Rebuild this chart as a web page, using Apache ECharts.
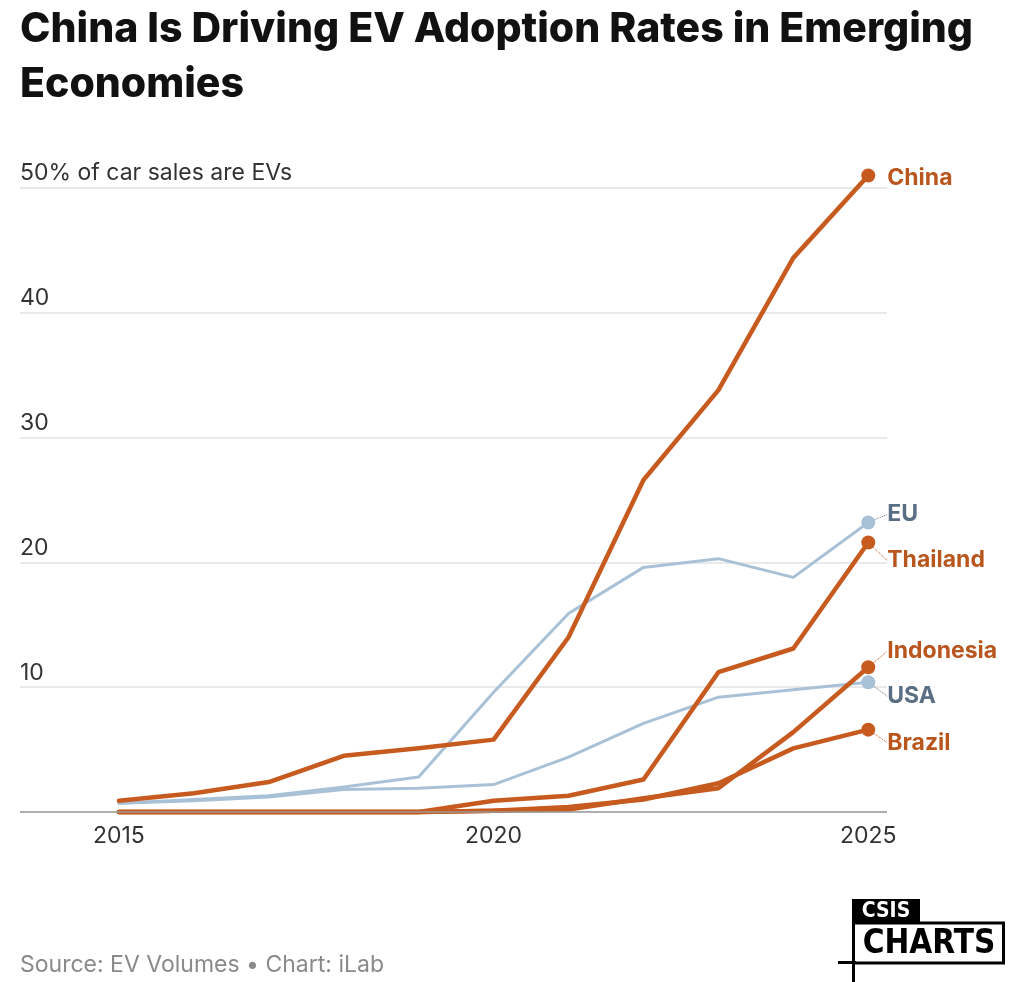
<!DOCTYPE html>
<html lang="en" style="height: 100%">

<head>
    <meta charset="utf-8">
</head>

<body style="height: 100%; margin: 0; background: #fff">
    <div id="container" style="height: 100%"></div>

    <script type="text/javascript" src="https://cdn.jsdelivr.net/npm/echarts@6/dist/echarts.min.js"></script>

    <script type="text/javascript">
        // years on the x axis
        const years = [2015, 2016, 2017, 2018, 2019, 2020, 2021, 2022, 2023, 2024, 2025];
        const xTicks = [2015, 2020, 2025];

        // EV share of new car sales, %
        const china = [0.9, 1.5, 2.4, 4.5, 5.1, 5.8, 14.0, 26.6, 33.8, 44.4, 51.0];
        const eu = [0.7, 1.0, 1.3, 2.0, 2.8, 9.6, 15.9, 19.6, 20.3, 18.8, 23.2];
        const usa = [0.7, 0.9, 1.2, 1.8, 1.9, 2.2, 4.4, 7.1, 9.2, 9.8, 10.4];
        const thailand = [0, 0, 0, 0, 0, 0.9, 1.3, 2.6, 11.2, 13.1, 21.6];
        const indonesia = [0, 0, 0, 0, 0, 0.1, 0.2, 1.1, 1.9, 6.4, 11.6];
        const brazil = [0, 0, 0, 0, 0, 0.1, 0.4, 1.0, 2.3, 5.1, 6.6];

        const ORANGE = '#c75b1f';
        const ORANGE_TXT = '#b8561e';
        const BLUE = '#a9c1d7';
        const BLUE_TXT = '#5a6f84';
        const FONT = 'Inter, "Open Sans", sans-serif';

        var dom = document.getElementById('container');
        var myChart = echarts.init(dom, null, { renderer: 'canvas' });

        // one line per market, dot + name on the last point only
        function makeSeries(name, values, color, txtColor, width, dy, leader) {
            const last = values.length - 1;
            return {
                name: name,
                type: 'line',
                symbol: 'none',
                showSymbol: true,
                clip: false,
                lineStyle: { color: color, width: width, cap: 'round', join: 'round' },
                itemStyle: { color: color },
                emphasis: { disabled: true },
                data: values.map((v, i) => {
                    if (i !== last) return [years[i], v];
                    return {
                        value: [years[i], v],
                        symbol: 'circle',
                        symbolSize: 14,
                        label: {
                            show: true,
                            position: 'right',
                            distance: 12,
                            formatter: name,
                            color: txtColor,
                            fontFamily: FONT,
                            fontWeight: 'bold',
                            fontSize: 23
                        },
                        labelLine: {
                            show: leader,
                            length2: 0,
                            lineStyle: { color: txtColor, type: 'dotted', width: 1 }
                        }
                    };
                }),
                labelLayout: { dy: dy },
                z: color === BLUE ? 2 : 3
            };
        }

        var option = {
            animation: false,
            backgroundColor: '#fff',
            textStyle: { fontFamily: FONT },
            title: [{
                text: 'China Is Driving EV Adoption Rates in Emerging\nEconomies',
                left: 20,
                top: 2,
                padding: 0,
                textStyle: {
                    fontFamily: FONT,
                    fontWeight: 800,
                    fontSize: 41,
                    lineHeight: 55,
                    color: '#111'
                }
            }, {
                text: 'Source: EV Volumes • Chart: iLab',
                left: 20,
                top: 954,
                padding: 0,
                textStyle: {
                    fontFamily: FONT,
                    fontWeight: 'normal',
                    fontSize: 23,
                    color: '#8a8a8a'
                }
            }],
            grid: {
                left: 20,
                right: 137,
                top: 188,
                bottom: 170,
                containLabel: false
            },
            xAxis: {
                type: 'value',
                min: 2013.68,
                max: 2025.25,
                splitLine: { show: false },
                axisTick: { show: false },
                axisLine: { show: false },
                axisLabel: {
                    customValues: xTicks,
                    formatter: v => String(v),
                    color: '#333',
                    fontSize: 23,
                    margin: 13
                }
            },
            yAxis: {
                type: 'value',
                min: 0,
                max: 50,
                interval: 10,
                axisLine: { show: false },
                axisTick: { show: false },
                splitLine: { lineStyle: { color: '#e2e2e2', width: 1.5 } },
                axisLabel: {
                    inside: true,
                    margin: 0,
                    align: 'left',
                    verticalAlign: 'bottom',
                    padding: [0, 0, 3, 0],
                    color: '#333',
                    fontSize: 23,
                    formatter: v => v === 0 ? '' : (v === 50 ? '50% of car sales are EVs' : String(v))
                },
                z: 1
            },
            series: [
                makeSeries('EU', eu, BLUE, BLUE_TXT, 3, -8, true),
                makeSeries('USA', usa, BLUE, BLUE_TXT, 3, 14, true),
                makeSeries('China', china, ORANGE, ORANGE_TXT, 4.5, 3, false),
                makeSeries('Thailand', thailand, ORANGE, ORANGE_TXT, 4.5, 18, true),
                makeSeries('Indonesia', indonesia, ORANGE, ORANGE_TXT, 4.5, -16, true),
                makeSeries('Brazil', brazil, ORANGE, ORANGE_TXT, 4.5, 13, true),
                {
                    // zero baseline
                    type: 'line',
                    silent: true,
                    data: [],
                    markLine: {
                        silent: true,
                        symbol: 'none',
                        label: { show: false },
                        lineStyle: { color: '#9a9a9a', width: 1.5, type: 'solid' },
                        data: [{ yAxis: 0 }]
                    },
                    z: 1
                }
            ],
            graphic: [{
                // CSIS CHARTS logo
                type: 'group',
                left: 838,
                top: 899,
                children: [
                    { type: 'rect', shape: { x: 14, y: 0, width: 68, height: 24 }, style: { fill: '#000' } },
                    {
                        type: 'text', x: 48, y: 13,
                        style: {
                            text: 'CSIS', fill: '#fff', align: 'center', verticalAlign: 'middle',
                            font: 'bold 21px "DejaVu Sans Condensed", "DejaVu Sans"'
                        }
                    },
                    {
                        type: 'rect', shape: { x: 15.5, y: 24, width: 150, height: 40 },
                        style: { fill: 'none', stroke: '#000', lineWidth: 3 }
                    },
                    {
                        type: 'text', x: 91, y: 45,
                        style: {
                            text: 'CHARTS', fill: '#000', align: 'center', verticalAlign: 'middle',
                            font: 'bold 33px "DejaVu Sans Condensed", "DejaVu Sans"'
                        }
                    },
                    { type: 'rect', shape: { x: 0, y: 62, width: 18, height: 3 }, style: { fill: '#000' } },
                    { type: 'rect', shape: { x: 14, y: 62, width: 3, height: 21 }, style: { fill: '#000' } }
                ]
            }]
        };

        myChart.setOption(option);

        window.addEventListener('resize', myChart.resize);
    </script>
</body>

</html>
